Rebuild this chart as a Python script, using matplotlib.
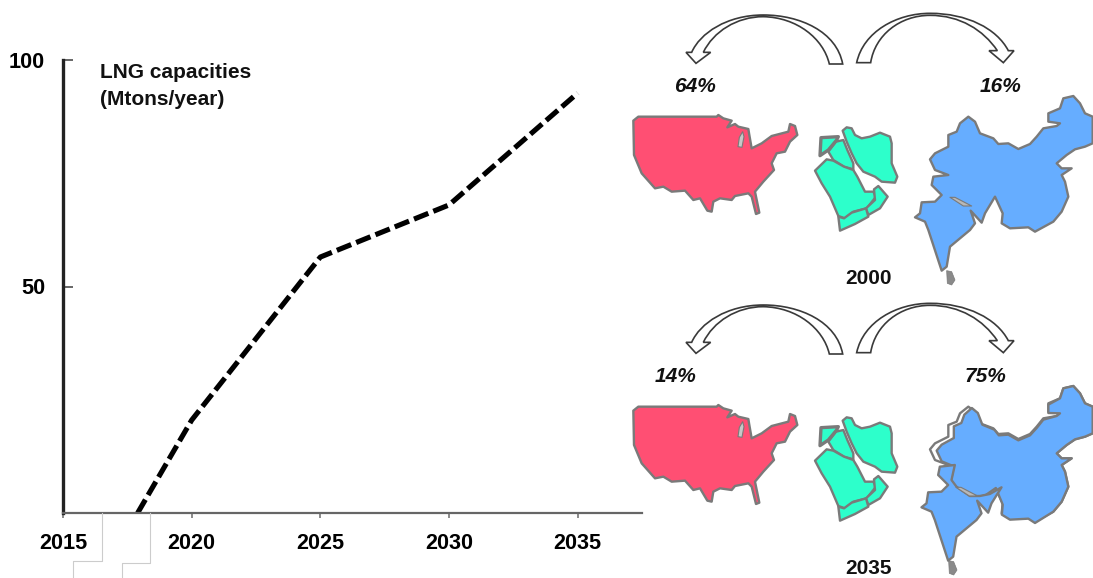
import numpy as np
import matplotlib
matplotlib.use('Agg')
import matplotlib.pyplot as plt
from matplotlib.patches import Polygon, PathPatch
from matplotlib.path import Path

plt.rcParams['font.family'] = ['Liberation Sans', 'DejaVu Sans']

years = [2017.9, 2020, 2025, 2030, 2035]
capacity = [0, 20.5, 56.5, 68, 92.7]
xticks = [2015, 2020, 2025, 2030, 2035]
yticks = [50, 100]
share_labels = [('64%', '16%', '2000'), ('14%', '75%', '2035')]

RED, TEAL, BLUE, EDGE = '#FF4F73', '#2DFFCB', '#66ADFF', '#7a7a7a'

# outlines, on a 3x grid so small coastline steps stay whole numbers
usa = [(40,362),(55,350),(290,350),(295,345),(310,355),(335,362),(322,382),(345,372),(355,380),(385,387),(388,405),
       (395,445),(425,430),(455,408),(505,395),(510,372),(525,378),(532,405),(510,425),(495,455),(470,460),(455,490),
       (462,510),(430,545),(405,575),(418,638),(408,642),(395,590),(385,580),(345,588),(335,600),(300,595),(280,605),
       (275,635),(262,632),(240,595),(220,600),(195,572),(155,575),(130,560),(105,565),(65,520),(42,465)]
lake = [(368,395),(358,412),(354,440),(366,442),(372,410)]
iran = [(668,392),(680,382),(695,385),(705,405),(725,415),(750,410),(780,398),(810,410),(815,430),(815,490),
        (832,530),(825,548),(785,545),(765,530),(730,515),(710,490),(695,460),(680,425)]
iraq = [(625,455),(648,425),(670,420),(682,450),(700,490),(700,508),(672,500),(640,480)]
syria = [(603,413),(655,410),(650,420),(625,450),(600,467)]
saudi = [(585,512),(620,478),(640,482),(672,500),(700,510),(712,530),(735,575),(760,575),(768,590),(740,625),
         (700,635),(675,655),(655,648),(630,590),(605,550)]
oman = [(762,568),(775,558),(803,590),(780,625),(745,645),(738,625),(765,600)]
yemen = [(655,650),(672,655),(695,638),(738,625),(745,650),(705,672),(660,692)]
china = [(930,478),(945,460),(985,440),(985,405),(1010,395),(1020,370),(1045,350),(1065,365),(1080,400),(1120,415),
         (1135,432),(1165,430),(1195,447),(1230,432),(1250,410),(1270,385),(1310,378),(1320,370),(1285,365),(1285,340),
         (1320,325),(1330,295),(1360,288),(1380,310),(1395,340),(1418,350),(1418,430),(1395,440),(1365,448),(1340,465),
         (1310,490),(1325,505),(1355,505),(1325,525),(1335,545),(1345,590),(1325,635),(1300,665),(1245,695),(1225,682),
         (1170,685),(1145,670),(1148,640),(1125,590),(1090,612),(1060,618),(1030,618),(990,590),(975,570),(985,525),
         (945,510)]
india = [(985,525),(940,530),(935,555),(965,585),(945,605),(905,607),(900,640),(885,652),(915,665),(925,690),
         (965,812),(980,800),(990,740),(1050,690),(1065,670),(1052,632),(1085,668),(1095,640),(1125,592),
         (1090,612),(1060,618),(1030,618),(990,590),(975,570)]
# subcontinent as one shape, used where no border shows between the two
asia = china[:44] + [(1095,640),(1085,668),(1052,632),(1065,670),(1050,690),(990,740),(980,800),(965,812),(925,690),
                     (915,665),(885,652),(900,640),(905,607),(945,605),(965,585),(935,555),(940,530),(985,525),(945,510)]
nepal = [(990,592),(1005,592),(1055,618),(1030,618)]
lanka = [(980,812),(995,815),(1005,840),(995,855),(982,850)]

# curved block arrows: start and bezier segments, then the head corners
arrow_left_out = [(668,192),(650,95),(540,45),(430,45),(320,45),(240,100),(215,157)]
arrow_left_head = [(198,157),(228,190),(272,157),(250,157)]
arrow_left_in = [(250,157),(280,95),(350,50),(430,50),(530,52),(610,115),(628,192)]
arrow_right_out = [(710,188),(730,95),(830,40),(930,40),(1040,40),(1130,85),(1165,152)]
arrow_right_head = [(1182,152),(1150,188),(1107,152),(1132,152)]
arrow_right_in = [(1132,152),(1090,90),(1020,46),(930,46),(840,46),(765,105),(752,188)]


def to_px(pts, dx=0, dy=0):
    a = np.asarray(pts, float)
    return np.column_stack([a[:, 0] / 3 + 620 + dx, a[:, 1] / 3 + dy])


def draw_arrow(ax, out, head, inner, dy):
    verts = list(out) + list(head) + list(inner[1:]) + [out[0]]
    codes = [Path.MOVETO] + [Path.CURVE4] * 6 + [Path.LINETO] * 4 + [Path.CURVE4] * 6 + [Path.CLOSEPOLY]
    ax.add_patch(PathPatch(Path(to_px(verts, dy=dy), codes), fc='white', ec='#3a3a3a', lw=1.2))


def land(ax, pts, fc, dy=0, dx=0, ec=EDGE, lw=1.7):
    ax.add_patch(Polygon(to_px(pts, dx, dy), closed=True, fc=fc, ec=ec, lw=lw, joinstyle='round'))


fig = plt.figure(figsize=(10.93, 5.78), dpi=100)

# line chart, placed by pixel so the year ticks fall where they should
ax = fig.add_axes([63 / 1093, 1 - 513 / 578, (642 - 63) / 1093, (513 - 60) / 578])
ax.set_xlim(2015, 2037.5)
ax.set_ylim(0, 100)
ax.plot(years, capacity, color='black', lw=3.7, ls=(0, (3.0, 1.05)), dash_capstyle='butt', solid_joinstyle='miter')
ax.set_xticks(xticks)
ax.set_xticklabels([str(v) for v in xticks], fontsize=15.6, fontweight='bold')
ax.set_yticks(yticks)
ax.set_yticklabels([str(v) for v in yticks], fontsize=15.6, fontweight='bold')
ax.tick_params(axis='x', length=3.5, width=1.2, color='#777777', pad=11)
ax.tick_params(axis='y', length=7, width=1.4, color='#666666', direction='in', pad=13)
for s in ['top', 'right']:
    ax.spines[s].set_visible(False)
ax.spines['left'].set_linewidth(2.4)
ax.spines['left'].set_color('#222222')
ax.spines['bottom'].set_linewidth(1.6)
ax.spines['bottom'].set_color('#666666')
ax.text(2016.42, 99.3, 'LNG capacities\n(Mtons/year)', fontsize=15, fontweight='bold', va='top', color='#111111',
        linespacing=1.55)

# everything else sits on a full-figure layer in pixel units
ov = fig.add_axes([0, 0, 1, 1], zorder=3)
ov.set_xlim(0, 1093)
ov.set_ylim(578, 0)
ov.axis('off')
ov.patch.set_alpha(0)

# stray table borders under the axis
for xs, ys in [([102, 102, 73, 73], [513, 561, 561, 578]), ([150, 150, 122, 122], [513, 563, 563, 578])]:
    ov.plot(xs, ys, color='#cccccc', lw=0.8)

for i, (left, right, year) in enumerate(share_labels):
    dy = 290 * i
    draw_arrow(ov, arrow_left_out, arrow_left_head, arrow_left_in, dy)
    draw_arrow(ov, arrow_right_out, arrow_right_head, arrow_right_in, dy)
    land(ov, usa, RED, dy)
    land(ov, lake, '#c8c8c8', dy, lw=0.8)
    for part in [iran, iraq, saudi, oman, yemen]:
        land(ov, part, TEAL, dy)
    land(ov, syria, TEAL, dy, lw=2.4)
    if i == 0:
        land(ov, asia, BLUE)
        land(ov, nepal, '#b8b8b8', lw=0.8)
        land(ov, lanka, '#8a8a8a', lw=0.5)
    else:
        # west side of China and all of India sit further east here, leaving a gap
        land(ov, china, 'white', dy)
        moved = [(x + 20 * np.clip((1150 - x) / 200, 0, 1), y + 4 * (x < 1300)) for x, y in china]
        land(ov, moved, BLUE, dy)
        land(ov, india, BLUE, dy, dx=6.5)
        land(ov, nepal, '#b8b8b8', dy, dx=6, lw=0.8)
        land(ov, lanka, '#8a8a8a', dy, dx=2, lw=0.5)

lab = dict(fontsize=15, fontweight='bold', ha='center', va='center', color='#111111')
ov.text(694.5, 87, share_labels[0][0], style='italic', **lab)
ov.text(1001, 87, share_labels[0][1], style='italic', **lab)
ov.text(869, 279, share_labels[0][2], **lab)
ov.text(676, 377, share_labels[1][0], style='italic', **lab)
ov.text(985, 377, share_labels[1][1], style='italic', **lab)
ov.text(869, 569, share_labels[1][2], **lab)

fig.savefig('out.png', dpi=100)
